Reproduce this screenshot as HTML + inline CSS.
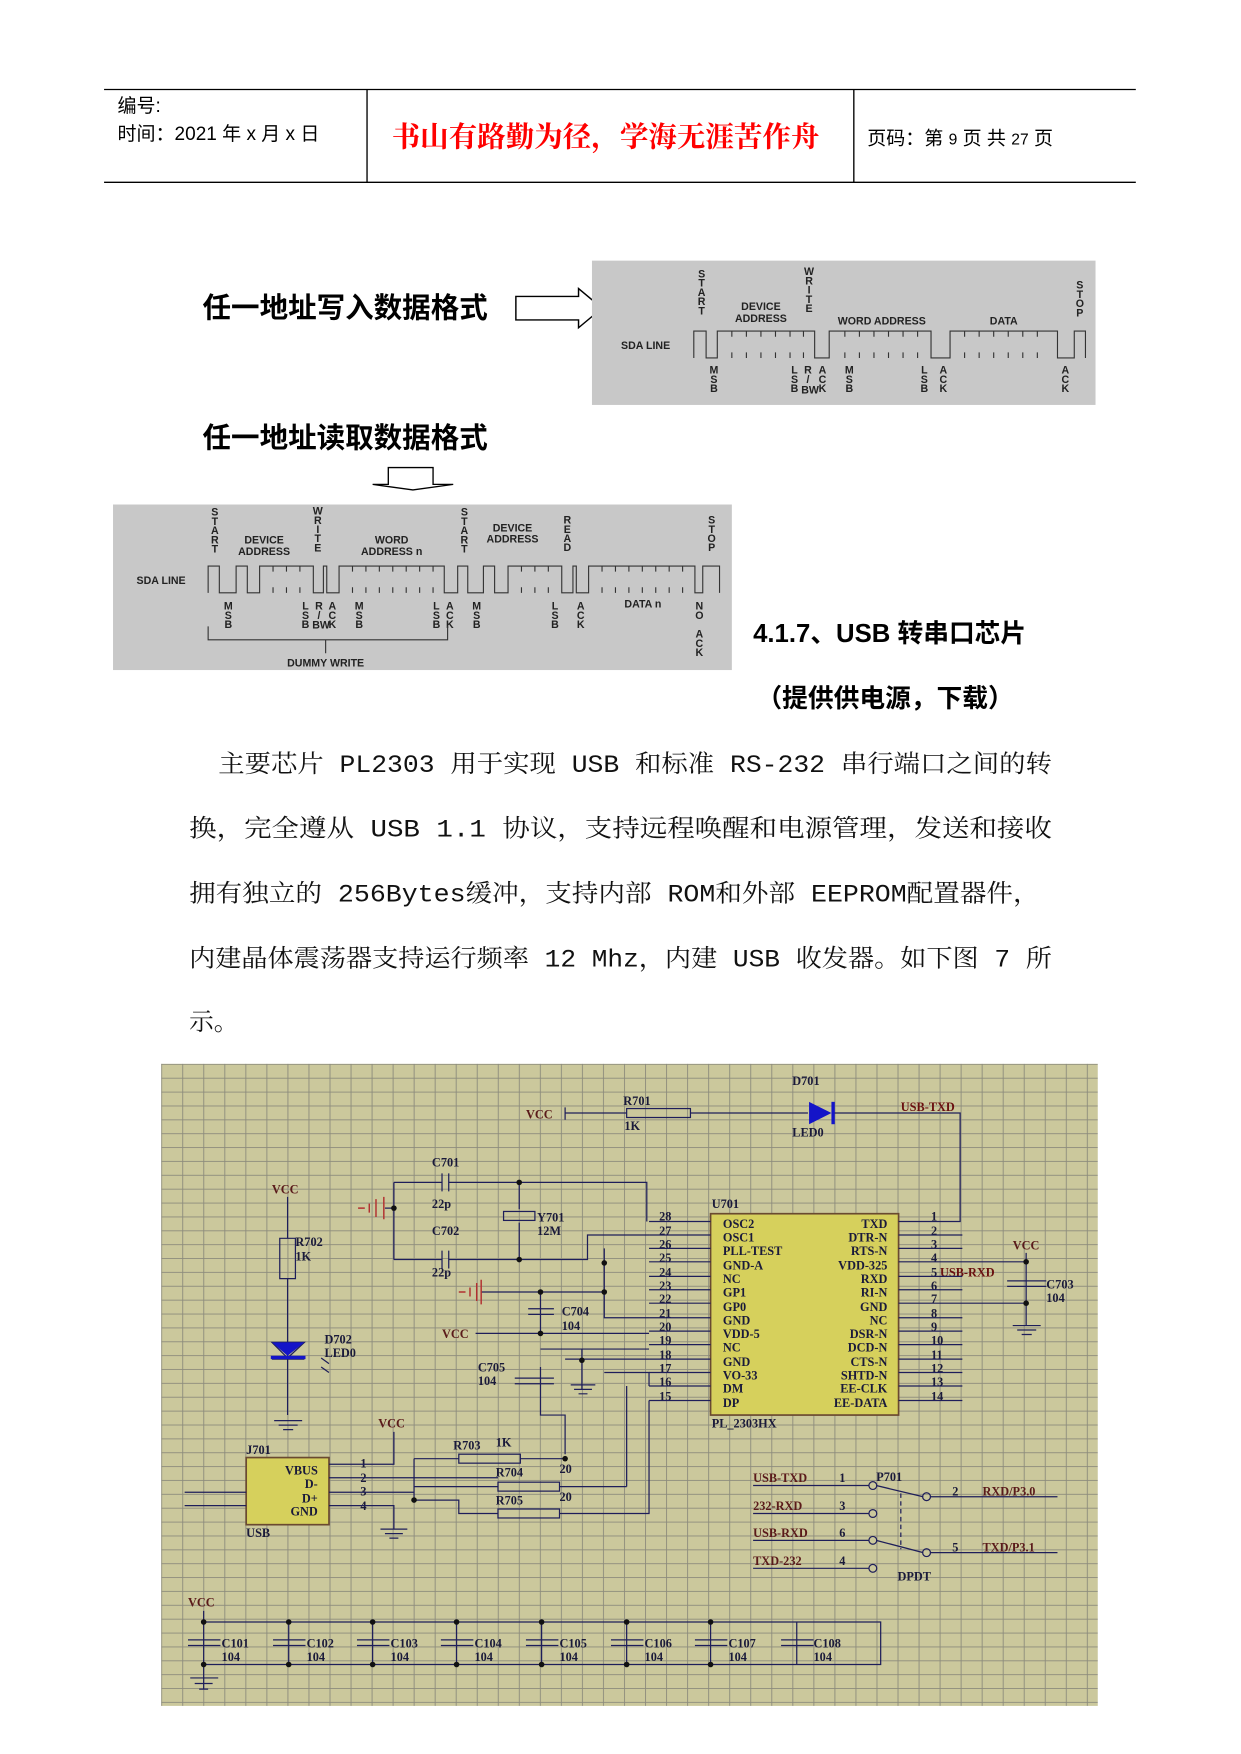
<!DOCTYPE html>
<html><head><meta charset="utf-8"><style>
html,body{margin:0;padding:0;background:#fff}
svg{display:block}
.v{writing-mode:vertical-rl;text-orientation:upright;letter-spacing:-2.5px}
</style></head><body>
<svg width="1241" height="1754" viewBox="0 0 1109 1568" preserveAspectRatio="none" xmlns="http://www.w3.org/2000/svg" font-family="'Liberation Sans','Noto Sans CJK SC',sans-serif">
<defs>
<pattern id="g" x="144" y="951" width="18.8" height="12.4" patternUnits="userSpaceOnUse">
<rect width="18.8" height="12.4" fill="#cbc89c"/>
<path d="M0.5 0V12.4M0 0.5H18.8" stroke="#8c8b7c" stroke-width="0.8"/>
</pattern>
</defs>
<!-- header -->
<line x1="93" y1="80" x2="1015" y2="80" stroke="#000" stroke-width="1.2"/>
<line x1="93" y1="163" x2="1015" y2="163" stroke="#000" stroke-width="1.2"/>
<line x1="328" y1="80" x2="328" y2="163" stroke="#000" stroke-width="1.2"/>
<line x1="763" y1="80" x2="763" y2="163" stroke="#000" stroke-width="1.2"/>
<text x="105" y="100" font-size="17">编号:</text>
<text x="105" y="125" font-size="17">时间：2021 年 x 月 x 日</text>
<text x="350" y="131" font-size="25.5" fill="#f00" font-family="'Noto Serif CJK SC',serif" font-weight="bold">书山有路勤为径，学海无涯苦作舟</text>
<text x="775" y="129" font-size="17">页码：第 <tspan font-size="14">9</tspan> 页  共 <tspan font-size="14">27</tspan> 页</text>

<!-- write format -->
<text x="181" y="284" font-size="25.5" font-weight="bold" font-family="'Noto Sans CJK SC',sans-serif">任一地址写入数据格式</text>
<path d="M461 265H517V258L538 275.5L517 293V286H461Z" fill="#fff" stroke="#000" stroke-width="1.3"/>
<rect x="529" y="233" width="450" height="129" fill="#c8c8c8"/>
<g font-size="9.5" font-weight="bold" fill="#222">
<text x="627" y="240" class="v">START</text>
<text x="723" y="238" class="v">WRITE</text>
<text x="965" y="250" class="v">STOP</text>
<text x="680" y="277" text-anchor="middle">DEVICE</text>
<text x="680" y="288" text-anchor="middle">ADDRESS</text>
<text x="788" y="290" text-anchor="middle">WORD ADDRESS</text>
<text x="897" y="290" text-anchor="middle">DATA</text>
<text x="555" y="312">SDA LINE</text>
<text x="638" y="326" class="v">MSB</text>
<text x="710" y="326" class="v">LSB</text>
<text x="722" y="326" class="v">R/</text>
<text x="716" y="352">BW</text>
<text x="735" y="326" class="v">ACK</text>
<text x="759" y="326" class="v">MSB</text>
<text x="826" y="326" class="v">LSB</text>
<text x="843" y="326" class="v">ACK</text>
<text x="952" y="326" class="v">ACK</text>
</g>
<g fill="none" stroke="#333" stroke-width="1">
<path d="M620 320V296H631V320H641V296H728V320H741V296H832V320H849V296H945V320H960V296H970V320"/>
<path d="M654 296v5M667 296v5M680 296v5M693 296v5M706 296v5M718 296v5M654 320v-5M667 320v-5M680 320v-5M693 320v-5M706 320v-5M718 320v-5M755 296v5M768 296v5M781 296v5M794 296v5M807 296v5M820 296v5M755 320v-5M768 320v-5M781 320v-5M794 320v-5M807 320v-5M820 320v-5M862 296v5M875 296v5M888 296v5M901 296v5M914 296v5M927 296v5M862 320v-5M875 320v-5M888 320v-5M901 320v-5M914 320v-5M927 320v-5"/>
</g>

<!-- read format -->
<text x="181" y="400" font-size="25.5" font-weight="bold" font-family="'Noto Sans CJK SC',sans-serif">任一地址读取数据格式</text>
<path d="M347 418H387V433H405L369 438L333 433H347Z" fill="#fff" stroke="#000" stroke-width="1.2"/>
<rect x="101" y="451" width="553" height="148" fill="#c8c8c8"/>
<g font-size="9.5" font-weight="bold" fill="#222">
<text x="192" y="453" class="v">START</text>
<text x="284" y="452" class="v">WRITE</text>
<text x="415" y="453" class="v">START</text>
<text x="507" y="460" class="v">READ</text>
<text x="636" y="460" class="v">STOP</text>
<text x="236" y="486" text-anchor="middle">DEVICE</text>
<text x="236" y="496" text-anchor="middle">ADDRESS</text>
<text x="350" y="486" text-anchor="middle">WORD</text>
<text x="350" y="496" text-anchor="middle">ADDRESS n</text>
<text x="458" y="475" text-anchor="middle">DEVICE</text>
<text x="458" y="485" text-anchor="middle">ADDRESS</text>
<text x="122" y="522">SDA LINE</text>
<text x="204" y="537" class="v">MSB</text>
<text x="273" y="537" class="v">LSB</text>
<text x="285" y="537" class="v">R/</text>
<text x="279" y="562">BW</text>
<text x="297" y="537" class="v">ACK</text>
<text x="321" y="537" class="v">MSB</text>
<text x="390" y="537" class="v">LSB</text>
<text x="402" y="537" class="v">ACK</text>
<text x="426" y="537" class="v">MSB</text>
<text x="496" y="537" class="v">LSB</text>
<text x="519" y="537" class="v">ACK</text>
<text x="558" y="543">DATA n</text>
<text x="625" y="537" class="v">NO</text>
<text x="625" y="562" class="v">ACK</text>
<text x="291" y="596" text-anchor="middle">DUMMY WRITE</text>
</g>
<g fill="none" stroke="#333" stroke-width="1">
<path d="M186 530V506H196V530H211V506H221V530H232V506H280V530H289V506H292V530H303V506H397V530H409V506H418V530H432V506H442V530H454V506H502V530H512V506H515V530H526V506H621V530H628V506H643V530"/>
<path d="M244 506v5M256 506v5M268 506v5M244 530v-5M256 530v-5M268 530v-5M315 506v5M327 506v5M339 506v5M351 506v5M363 506v5M375 506v5M387 506v5M315 530v-5M327 530v-5M339 530v-5M351 530v-5M363 530v-5M375 530v-5M387 530v-5M466 506v5M478 506v5M490 506v5M466 530v-5M478 530v-5M490 530v-5M538 506v5M550 506v5M562 506v5M574 506v5M586 506v5M598 506v5M610 506v5M538 530v-5M550 530v-5M562 530v-5M574 530v-5M586 530v-5M598 530v-5M610 530v-5"/>
<path d="M186 560V572H400V560M291 572V584"/>
</g>

<text x="673" y="574" font-size="23" font-weight="bold" font-family="'Liberation Sans','Noto Sans CJK SC',sans-serif">4.1.7、USB 转串口芯片</text>
<text x="676" y="632" font-size="23" font-weight="bold" font-family="'Noto Sans CJK SC',sans-serif">（提供供电源，下载）</text>

<g font-size="22" font-family="'Liberation Mono','Noto Serif CJK SC',serif" fill="#111">
<text x="195" y="690" textLength="745" lengthAdjust="spacingAndGlyphs">主要芯片 PL2303 用于实现 USB 和标准 RS-232 串行端口之间的转</text>
<text x="169" y="748" textLength="771" lengthAdjust="spacingAndGlyphs">换，完全遵从 USB 1.1 协议，支持远程唤醒和电源管理，发送和接收</text>
<text x="169" y="806" textLength="760" lengthAdjust="spacingAndGlyphs">拥有独立的 256Bytes缓冲，支持内部 ROM和外部 EEPROM配置器件，</text>
<text x="169" y="864" textLength="771" lengthAdjust="spacingAndGlyphs">内建晶体震荡器支持运行频率 12 Mhz，内建 USB 收发器。如下图 7 所</text>
<text x="169" y="921">示。</text>
</g>

<!-- schematic -->
<rect x="144" y="951" width="837" height="574" fill="url(#g)"/>
<g font-family="'Liberation Serif',serif" font-weight="bold" font-size="11" fill="#1a1a3a">
<text x="470" y="1000" fill="#5a1a1a">VCC</text>
<text x="557" y="988">R701</text><text x="558" y="1010">1K</text>
<text x="708" y="970">D701</text><text x="708" y="1016">LED0</text>
<text x="805" y="993" fill="#6a1010">USB-TXD</text>
<rect x="635" y="1085" width="168" height="180" fill="#d6d05c" stroke="#6a4a30" stroke-width="1.5"/>
<text x="636" y="1080">U701</text>
<text x="636" y="1276">PL_2303HX</text>
<g font-size="11">
<text x="646" y="1098">OSC2</text><text x="646" y="1110">OSC1</text><text x="646" y="1122">PLL-TEST</text><text x="646" y="1135">GND-A</text><text x="646" y="1147">NC</text><text x="646" y="1159">GP1</text><text x="646" y="1172">GP0</text><text x="646" y="1184">GND</text><text x="646" y="1196">VDD-5</text><text x="646" y="1208">NC</text><text x="646" y="1221">GND</text><text x="646" y="1233">VO-33</text><text x="646" y="1245">DM</text><text x="646" y="1258">DP</text>
</g>
<g font-size="11" text-anchor="end">
<text x="793" y="1098">TXD</text><text x="793" y="1110">DTR-N</text><text x="793" y="1122">RTS-N</text><text x="793" y="1135">VDD-325</text><text x="793" y="1147">RXD</text><text x="793" y="1159">RI-N</text><text x="793" y="1172">GND</text><text x="793" y="1184">NC</text><text x="793" y="1196">DSR-N</text><text x="793" y="1208">DCD-N</text><text x="793" y="1221">CTS-N</text><text x="793" y="1233">SHTD-N</text><text x="793" y="1245">EE-CLK</text><text x="793" y="1258">EE-DATA</text>
</g>
<g font-size="11">
<text x="589" y="1091">28</text><text x="589" y="1104">27</text><text x="589" y="1116">26</text><text x="589" y="1128">25</text><text x="589" y="1141">24</text><text x="589" y="1153">23</text><text x="589" y="1165">22</text><text x="589" y="1178">21</text><text x="589" y="1190">20</text><text x="589" y="1202">19</text><text x="589" y="1215">18</text><text x="589" y="1227">17</text><text x="589" y="1239">16</text><text x="589" y="1252">15</text>
<text x="832" y="1091">1</text><text x="832" y="1104">2</text><text x="832" y="1116">3</text><text x="832" y="1128">4</text><text x="832" y="1141">5</text><text x="832" y="1153">6</text><text x="832" y="1165">7</text><text x="832" y="1178">8</text><text x="832" y="1190">9</text><text x="832" y="1202">10</text><text x="832" y="1215">11</text><text x="832" y="1227">12</text><text x="832" y="1239">13</text><text x="832" y="1252">14</text>
</g>
<text x="840" y="1141" fill="#6a1010">USB-RXD</text>
<text x="905" y="1117" fill="#5a1a1a">VCC</text>
<text x="935" y="1152">C703</text><text x="935" y="1164">104</text>
<text x="386" y="1043">C701</text><text x="386" y="1080">22p</text>
<text x="386" y="1104">C702</text><text x="386" y="1141">22p</text>
<text x="480" y="1092">Y701</text><text x="480" y="1104">12M</text>
<text x="502" y="1176">C704</text><text x="502" y="1189">104</text>
<text x="395" y="1196" fill="#5a1a1a">VCC</text>
<text x="427" y="1226">C705</text><text x="427" y="1238">104</text>
<text x="243" y="1067" fill="#5a1a1a">VCC</text>
<text x="264" y="1114">R702</text><text x="264" y="1127">1K</text>
<text x="290" y="1201">D702</text><text x="290" y="1213">LED0</text>
<rect x="220" y="1303" width="74" height="60" fill="#d6d05c" stroke="#6a4a30" stroke-width="1.5"/>
<text x="220" y="1300">J701</text><text x="220" y="1374">USB</text>
<g text-anchor="end"><text x="284" y="1318">VBUS</text><text x="284" y="1330">D-</text><text x="284" y="1343">D+</text><text x="284" y="1355">GND</text></g>
<text x="322" y="1312">1</text><text x="322" y="1325">2</text><text x="322" y="1337">3</text><text x="322" y="1350">4</text>
<text x="338" y="1276" fill="#5a1a1a">VCC</text>
<text x="405" y="1296">R703</text><text x="443" y="1293">1K</text>
<text x="443" y="1320">R704</text><text x="500" y="1317">20</text>
<text x="443" y="1345">R705</text><text x="500" y="1342">20</text>
<text x="673" y="1325" fill="#5a1a1a">USB-TXD</text><text x="750" y="1325">1</text>
<text x="673" y="1350" fill="#5a1a1a">232-RXD</text><text x="750" y="1350">3</text>
<text x="673" y="1374" fill="#5a1a1a">USB-RXD</text><text x="750" y="1374">6</text>
<text x="673" y="1399" fill="#5a1a1a">TXD-232</text><text x="750" y="1399">4</text>
<text x="783" y="1324">P701</text>
<text x="851" y="1337">2</text><text x="878" y="1337" fill="#5a1a1a">RXD/P3.0</text>
<text x="851" y="1387">5</text><text x="878" y="1387" fill="#5a1a1a">TXD/P3.1</text>
<text x="802" y="1413">DPDT</text>
<text x="168" y="1436" fill="#5a1a1a">VCC</text>
<g><text x="198" y="1473">C101</text><text x="198" y="1485">104</text>
<text x="274" y="1473">C102</text><text x="274" y="1485">104</text>
<text x="349" y="1473">C103</text><text x="349" y="1485">104</text>
<text x="424" y="1473">C104</text><text x="424" y="1485">104</text>
<text x="500" y="1473">C105</text><text x="500" y="1485">104</text>
<text x="576" y="1473">C106</text><text x="576" y="1485">104</text>
<text x="651" y="1473">C107</text><text x="651" y="1485">104</text>
<text x="727" y="1473">C108</text><text x="727" y="1485">104</text></g>
</g>
<g fill="none" stroke="#1e1e5a" stroke-width="1.1">
<path d="M505 990V1001M505 995H560M617 995H722M745 995H858V1092H803"/>
<rect x="560" y="991" width="57" height="8"/>
<path d="M803 1104H860M803 1116H860M803 1128H917M803 1141H860M803 1153H860M803 1165H917M803 1178H860M803 1190H860M803 1202H860M803 1215H860M803 1227H860M803 1239H860M803 1252H860"/>
<path d="M917 1120V1185M900 1145H935M900 1150H935M905 1185H930M909 1189H926M913 1193H922"/>
<path d="M580 1092H635M580 1104H635M580 1116H635M580 1128H635M580 1141H635M580 1153H635M580 1165H635M580 1178H635M580 1190H635M580 1202H635M580 1215H635M580 1227H635M580 1239H635M580 1252H635"/>
<path d="M352 1057V1126M352 1080H344M352 1057H395M401 1057H578V1092M352 1126H395M401 1126H464M464 1057V1081M464 1093V1126M464 1126H525V1104H580"/>
<path d="M395 1049V1065M401 1049V1065M395 1118V1134M401 1118V1134"/>
<rect x="450" y="1083" width="28" height="8"/>
<path d="M540 1116V1178H580M430 1155H540M483 1155V1192M472 1170H495M472 1175H495M425 1192H483M483 1192H580"/>
<path d="M483 1222V1265H505V1300M460 1232H495M460 1237H495M483 1206H520V1242M520 1206H580M510 1238H532M513 1242H529M517 1246H525"/>
<path d="M505 1215H580M540 1227H580V1239M560 1239V1329M500 1329H560M580 1252V1353H500"/>
<path d="M257 1070V1107M257 1143V1265M250 1107H264V1143H250Z M243 1200H272L257 1214Z M243 1215H272M245 1270H270M249 1274H266M253 1278H262"/>
<path d="M287 1214l7 5M287 1222l7 5"/>
<path d="M294 1309H352V1280M294 1321H445M294 1334H370M294 1346H352V1367M340 1367H364M344 1371H360M348 1375H356M165 1334H220M165 1346H220"/>
<path d="M370 1304V1341M370 1304H410M465 1304H505M370 1329H445M370 1341H410V1353H445"/>
<rect x="410" y="1300" width="55" height="8"/><rect x="445" y="1325" width="55" height="8"/><rect x="445" y="1349" width="55" height="8"/>
<path d="M673 1328H777M673 1353H777M673 1377H777M673 1402H777M783 1328L825 1338M783 1377L825 1388M831 1338H875M831 1388H945M875 1338H945"/>
<path d="M805 1335V1385" stroke-dasharray="4 3"/>
<circle cx="780" cy="1328" r="3.5"/><circle cx="780" cy="1353" r="3.5"/><circle cx="780" cy="1377" r="3.5"/><circle cx="780" cy="1402" r="3.5"/><circle cx="828" cy="1338" r="3.5"/><circle cx="828" cy="1388" r="3.5"/>
<path d="M182 1440V1510M182 1450H787V1488H182M258 1450V1488M333 1450V1488M408 1450V1488M484 1450V1488M560 1450V1488M635 1450V1488M712 1450V1488M787 1450V1488"/>
<path d="M168 1466H197M168 1471H197M244 1466H273M244 1471H273M319 1466H348M319 1471H348M394 1466H423M394 1471H423M470 1466H499M470 1471H499M546 1466H575M546 1471H575M621 1466H650M621 1471H650M698 1466H727M698 1471H727M170 1500H195M174 1505H190M178 1510H186"/>
</g>
<g stroke="#b23030" stroke-width="1.3" fill="none"><path d="M320 1080H326M330 1076V1084M336 1072V1088M343 1070V1090M410 1155H416M420 1151V1159M426 1147V1163M430 1144V1166"/></g>
<path d="M723 985L743 995L723 1005Z" fill="#1414c8"/><rect x="743" y="985" width="3" height="20" fill="#1414c8"/>
<path d="M243 1200H272L257 1212Z" fill="#1414c8"/><rect x="242" y="1212" width="31" height="3" fill="#1414c8"/>
<g fill="#111"><circle cx="352" cy="1080" r="2.5"/><circle cx="464" cy="1057" r="2.5"/><circle cx="464" cy="1126" r="2.5"/><circle cx="540" cy="1129" r="2.5"/><circle cx="540" cy="1155" r="2.5"/><circle cx="483" cy="1155" r="2.5"/><circle cx="483" cy="1192" r="2.5"/><circle cx="520" cy="1216" r="2.5"/><circle cx="505" cy="1304" r="2.5"/><circle cx="370" cy="1341" r="2.5"/><circle cx="917" cy="1128" r="2.5"/><circle cx="917" cy="1165" r="2.5"/>
<circle cx="182" cy="1450" r="2.5"/><circle cx="258" cy="1450" r="2.5"/><circle cx="333" cy="1450" r="2.5"/><circle cx="408" cy="1450" r="2.5"/><circle cx="484" cy="1450" r="2.5"/><circle cx="560" cy="1450" r="2.5"/><circle cx="635" cy="1450" r="2.5"/>
<circle cx="182" cy="1488" r="2.5"/><circle cx="258" cy="1488" r="2.5"/><circle cx="333" cy="1488" r="2.5"/><circle cx="408" cy="1488" r="2.5"/><circle cx="484" cy="1488" r="2.5"/><circle cx="560" cy="1488" r="2.5"/><circle cx="635" cy="1488" r="2.5"/></g>
</svg>
</body></html>
